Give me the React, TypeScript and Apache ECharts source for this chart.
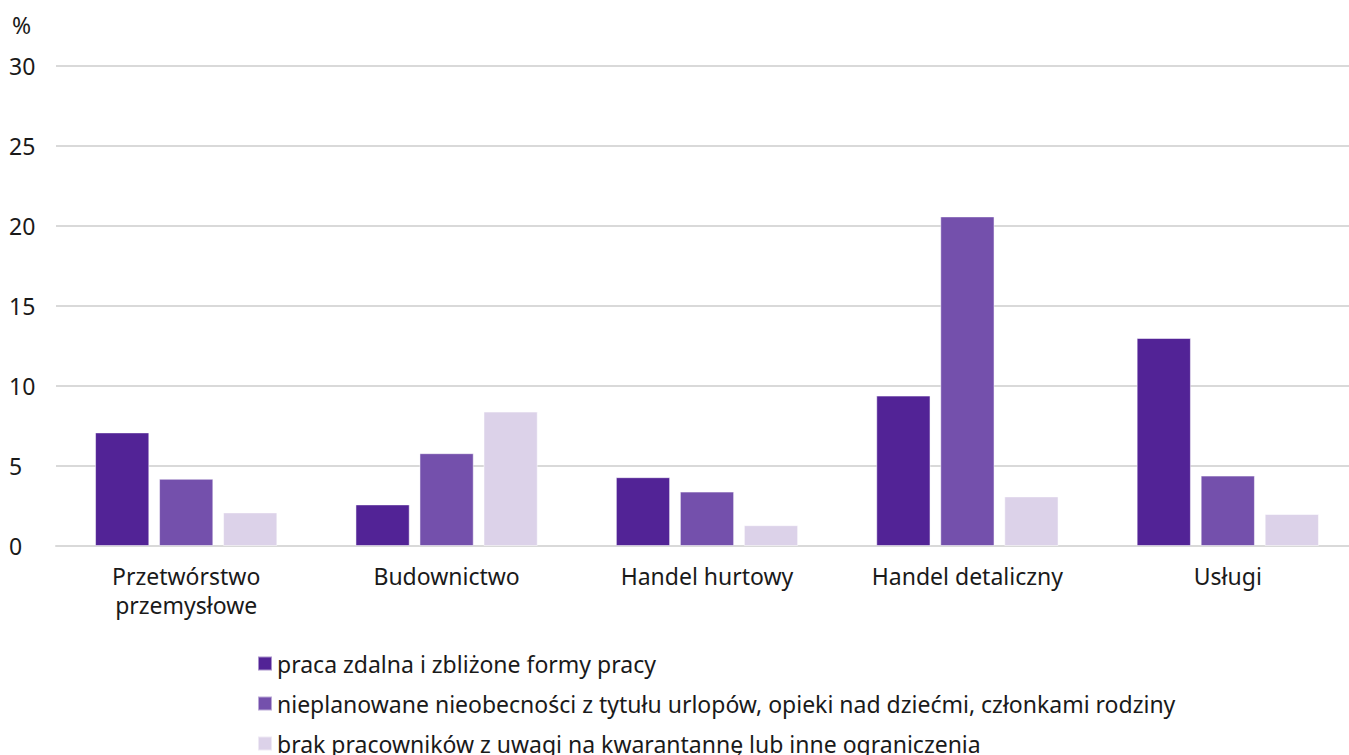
import React, { useEffect, useRef } from "react";
import * as echarts from "echarts";

const categories = ["Przetwórstwo\nprzemysłowe", "Budownictwo", "Handel hurtowy", "Handel detaliczny", "Usługi"];
const seriesNames = [
  "praca zdalna i zbliżone formy pracy",
  "nieplanowane nieobecności z tytułu urlopów, opieki nad dziećmi, członkami rodziny",
  "brak pracowników z uwagi na kwarantannę lub inne ograniczenia",
];
const remoteWork = [7.1, 2.6, 4.3, 9.4, 13.0];
const absences = [4.2, 5.8, 3.4, 20.6, 4.4];
const quarantine = [2.1, 8.4, 1.3, 3.1, 2.0];
const colors = ["#522396", "#7450ac", "#dcd2e9"];
const yTicks = { min: 0, max: 30, interval: 5 };

const FONT = "'Noto Sans', sans-serif";
const FS = 23;

export default function App() {
  const ref = useRef<HTMLDivElement>(null);
  useEffect(() => {
    document.body.style.margin = "0";
    const chart = echarts.init(ref.current!, undefined, { renderer: "svg" });
    const data = [remoteWork, absences, quarantine];
    const legendTops = [647, 687, 727];
    chart.setOption({
      animation: false,
      textStyle: { fontFamily: FONT },
      grid: { left: 56, top: 66, right: 0, height: 480, containLabel: false },
      graphic: [
        { type: "text", left: 12, top: 13, style: { text: "%", fontSize: FS, fill: "#1a1a1a", fontFamily: FONT } },
      ],
      legend: seriesNames.map((name, i) => ({
        orient: "vertical",
        left: 252,
        top: legendTops[i],
        itemWidth: 14,
        itemHeight: 14,
        icon: "rect",
        textStyle: { fontSize: FS, color: "#1a1a1a", fontFamily: FONT },
        data: [name],
      })),
      xAxis: {
        type: "category",
        data: categories,
        axisLine: { show: true, lineStyle: { color: "#d9d9d9", width: 2 } },
        axisTick: { show: false },
        axisLabel: { fontSize: FS, color: "#1a1a1a", margin: 15, lineHeight: 29, fontFamily: FONT },
      },
      yAxis: {
        type: "value",
        min: yTicks.min,
        max: yTicks.max,
        interval: yTicks.interval,
        axisLine: { show: false },
        axisTick: { show: false },
        splitLine: { lineStyle: { color: "#d9d9d9", width: 2 } },
        axisLabel: { fontSize: FS, color: "#1a1a1a", align: "left", margin: 47, fontFamily: FONT },
      },
      series: seriesNames.map((name, i) => ({
        name,
        type: "bar",
        data: data[i],
        barGap: "18%",
        barCategoryGap: "30%",
        itemStyle: { color: colors[i], borderColor: "rgba(255,255,255,0.5)", borderWidth: 1 },
      })),
    });
    return () => chart.dispose();
  }, []);
  return (
    <div style={{ width: 1349, height: 755, overflow: "hidden", position: "relative" }}>
      <div ref={ref} style={{ width: 1358, height: 755 }} />
    </div>
  );
}
